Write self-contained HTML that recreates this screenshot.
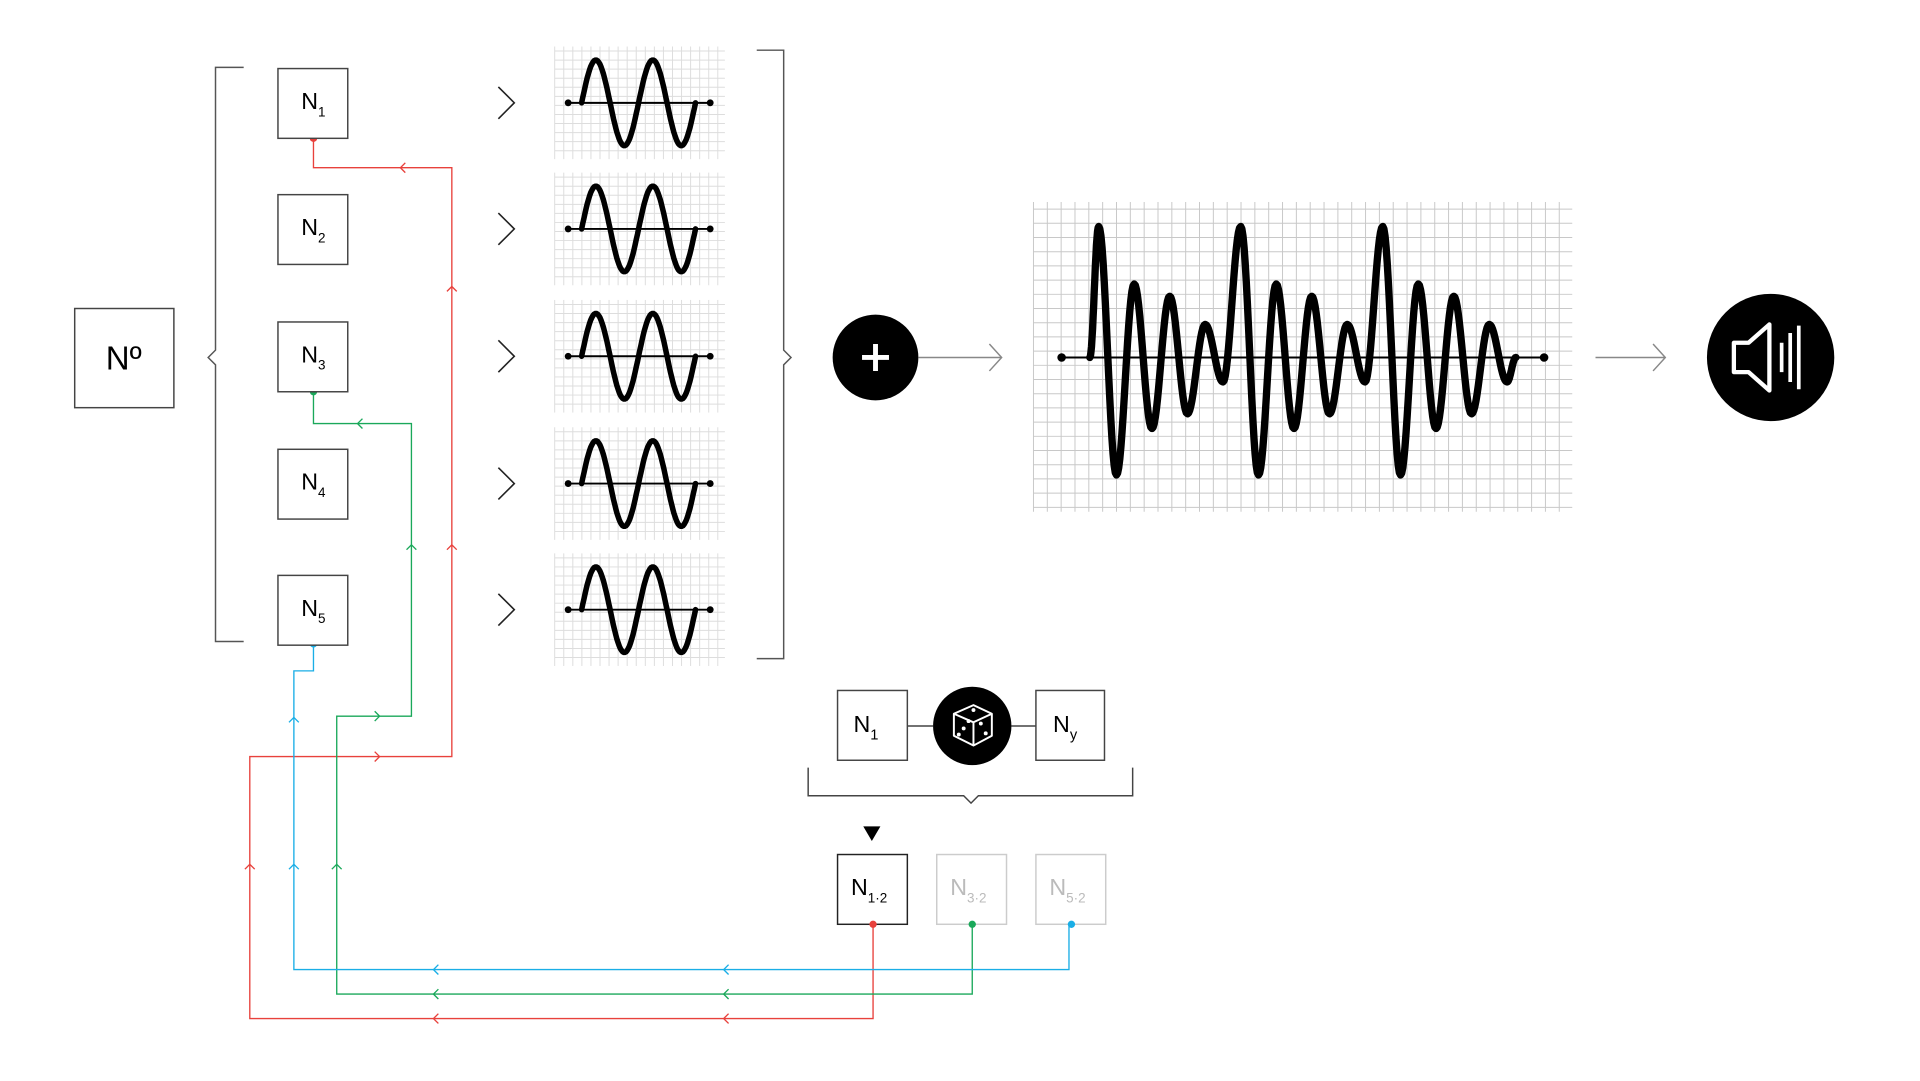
<!DOCTYPE html>
<html><head><meta charset="utf-8"><style>
html,body{margin:0;padding:0;background:#fff;overflow:hidden;}
svg{display:block;}
text{font-family:"Liberation Sans",sans-serif;}
</style></head><body>
<svg id="s" width="1920" height="1081" viewBox="0 0 1568 883" preserveAspectRatio="none" xmlns="http://www.w3.org/2000/svg">
<g id="grids"></g>
<g>
<rect x="61" y="252" width="81" height="81" fill="#fff" stroke="#444" stroke-width="1.2"/>
<text x="101" y="302" font-size="27" text-anchor="middle">Nº</text>
</g>
<path d="M199,55 H176 V286 L170,292 L176,298 V524 H199" fill="none" stroke="#555" stroke-width="1.2"/>
<path d="M618,41 H640 V286 L646,292 L640,298 V538 H618" fill="none" stroke="#555" stroke-width="1.2"/>
<g id="routes" fill="none" stroke-width="1.1"></g>
<g id="boxes"></g>
<g id="waves"></g>
<g>
<circle cx="715" cy="292" r="35" fill="#000"/>
<path d="M715,281 V303 M704,292 H726" stroke="#fff" stroke-width="4"/>
</g>
<path d="M750,292 H818 M808,281 L818,292 L808,303" fill="none" stroke="#888" stroke-width="1.2"/>
<path d="M1303,292 H1360 M1350,281 L1360,292 L1350,303" fill="none" stroke="#888" stroke-width="1.2"/>
<g id="bigwave"></g>
<g>
<circle cx="1446" cy="292" r="52" fill="#000"/>
<path d="M1416,280 H1428 L1445,265 V319 L1428,304 H1416 Z" fill="none" stroke="#fff" stroke-width="3.5" stroke-linejoin="round"/>
<path d="M1455,280 V304 M1462,272 V312 M1469,266 V318" stroke="#fff" stroke-width="3"/>
</g>
<g>
<rect x="684" y="564" width="57" height="57" fill="#fff" stroke="#444" stroke-width="1.2"/>
<text x="697" y="598" font-size="19" font-family="Liberation Mono">N<tspan font-size="12" dy="6">1</tspan></text>
<path d="M741,593 H762 M826,593 H846" stroke="#444" stroke-width="1.2"/>
<g>
<circle cx="794" cy="593" r="32" fill="#000"/>
<path d="M779,583 L795,576 L810,583 L810,601 L795,609 L779,601 Z M779,583 L795,590 L810,583 M795,590 V609" fill="none" stroke="#fff" stroke-width="1.6" stroke-linejoin="round"/>
<circle cx="795" cy="580" r="1.6" fill="#fff"/><circle cx="783" cy="600" r="1.6" fill="#fff"/><circle cx="787" cy="595" r="1.6" fill="#fff"/><circle cx="791" cy="589" r="1.6" fill="#fff"/><circle cx="801" cy="591" r="1.6" fill="#fff"/><circle cx="805" cy="599" r="1.6" fill="#fff"/>
</g>
<rect x="846" y="564" width="56" height="57" fill="#fff" stroke="#444" stroke-width="1.2"/>
<text x="860" y="598" font-size="19" font-family="Liberation Mono">N<tspan font-size="12" dy="6">y</tspan></text>
<path d="M660,627 V650 H787 L793,656 L799,650 H925 V627" fill="none" stroke="#444" stroke-width="1.2"/>
<path d="M705,675 H719 L712,687 Z" fill="#000"/>
</g>
<g id="outboxes"></g>
</svg>
<script>
const NS="http://www.w3.org/2000/svg";
function mk(tag,attrs,parent){const e=document.createElementNS(NS,tag);for(const k in attrs)e.setAttribute(k,attrs[k]);parent.appendChild(e);return e;}
const grids=document.getElementById('grids');
function grid(x0,y0,x1,y1,sx,sy,col){
  for(let x=x0;x<=x1+0.1;x+=sx) mk('line',{x1:x,y1:y0,x2:x,y2:y1,stroke:col,'stroke-width':0.8},grids);
  for(let y=y0+sy/2;y<=y1;y+=sy) mk('line',{x1:x0,y1:y,x2:x1,y2:y,stroke:col,'stroke-width':0.8},grids);
}
const oscLabels=['1','2','3','4','5'];
const oscCenters=[84,187,291,395,498];
const boxes=document.getElementById('boxes');
const waves=document.getElementById('waves');
oscLabels.forEach((lab,i)=>{
  const cy=oscCenters[i];
  const g=mk('g',{},boxes);
  
  
  mk('rect',{x:227,y:cy-28,width:57,height:57,fill:'#fff',stroke:'#444','stroke-width':1.2},g);
  const t=mk('text',{x:246,y:cy+5,'font-size':19,'font-family':'Liberation Mono'},g);
  t.textContent='N';
  const ts=mk('tspan',{'font-size':11,dy:6},t); ts.textContent=lab;
  const ch=mk('path',{d:`M407,${cy-13} L420,${cy} L407,${cy+13}`,fill:'none',stroke:'#222','stroke-width':1.3},boxes);
  
  
  grid(453,cy-46,592,cy+46,7.4,7.4,'#ddd');
  const wg=mk('g',{},waves);
  
  
  mk('line',{x1:464,y1:cy,x2:580,y2:cy,stroke:'#000','stroke-width':1.6},wg);
  mk('circle',{cx:464,cy:cy,r:2.8,fill:'#000'},wg);
  mk('circle',{cx:580,cy:cy,r:2.8,fill:'#000'},wg);
  let d='';
  for(let k=0;k<=100;k++){const x=475+93*k/100;const y=cy-35*Math.sin(4*Math.PI*k/100);d+=(k?'L':'M')+x.toFixed(1)+','+y.toFixed(1);}
  mk('path',{d:d,fill:'none',stroke:'#000','stroke-width':4.5,'stroke-linecap':'round'},wg);
});
const bigExtremes=[107,-96,60,-58,50,-46,27,-20,107,-96,60,-58,50,-46,27,-20,107,-96,60,-58,50,-46,27,-20];
grid(844,165,1284,418,11.3,11.6,'#c8c8c8');
const bw=document.getElementById('bigwave');


const axY=292,xs0=890,xs1=1238;
mk('line',{x1:867,y1:axY,x2:1261,y2:axY,stroke:'#000','stroke-width':1.6},bw);
mk('circle',{cx:867,cy:axY,r:3.5,fill:'#000'},bw);
mk('circle',{cx:1261,cy:axY,r:3.5,fill:'#000'},bw);
(function(){
  const n=bigExtremes.length;const step=(xs1-xs0)/(n);
  const pts=[[xs0,0]];
  bigExtremes.forEach((v,i)=>pts.push([xs0+step*(i+0.5),v]));
  pts.push([xs1,0]);
  let d=`M${xs0},${axY}`;
  for(let i=0;i<pts.length-1;i++){
    const [xa,ya]=pts[i],[xb,yb]=pts[i+1];
    for(let k=1;k<=16;k++){const t=k/16;const x=xa+(xb-xa)*t;const y=ya+(yb-ya)*(1-Math.cos(Math.PI*t))/2;d+=`L${x.toFixed(1)},${(axY-y).toFixed(1)}`;}
  }
  mk('path',{d:d,fill:'none',stroke:'#000','stroke-width':6,'stroke-linecap':'round','stroke-linejoin':'round'},bw);
})();
const routes=document.getElementById('routes');
function route(name,col,d,arrows){
  const g=mk('g',{stroke:col},routes);
  
  
  mk('path',{d:d},g);
  arrows.forEach(([x,y,dir])=>{
    let p;
    if(dir==='L')p=`M${x+4},${y-4} L${x},${y} L${x+4},${y+4}`;
    if(dir==='R')p=`M${x-4},${y-4} L${x},${y} L${x-4},${y+4}`;
    if(dir==='U')p=`M${x-4},${y+4} L${x},${y} L${x+4},${y+4}`;
    mk('path',{d:p},g);
  });
}
route('red-route','#e8413c','M713,755 V832 H204 V618 H369 V137 H256 V113',[[354,832,'L'],[591,832,'L'],[204,706,'U'],[310,618,'R'],[369,445,'U'],[369,234,'U'],[327,137,'L']]);
route('green-route','#1aa85a','M794,755 V812 H275 V585 H336 V346 H256 V320',[[354,812,'L'],[591,812,'L'],[275,706,'U'],[310,585,'R'],[336,445,'U'],[292,346,'L']]);
route('blue-route','#1aaee6','M873,755 V792 H240 V548 H256 V526',[[354,792,'L'],[591,792,'L'],[240,706,'U'],[240,586,'U']]);
[[256,113,'#e8413c'],[256,320,'#1aa85a'],[256,526,'#1aaee6']].forEach(([x,y,c])=>{const e=mk('circle',{cx:x,cy:y,r:3,fill:c},routes);});
const outLabels=['1·2','3·2','5·2'];
const outX=[684,765,846];
const outActive=[true,false,false];
const outDot=['#e8413c','#1aa85a','#1aaee6'];
const ob=document.getElementById('outboxes');
outLabels.forEach((lab,i)=>{
  const g=mk('g',{},ob);
  
  
  const c=outActive[i]?'#000':'#bbb';
  mk('rect',{x:outX[i],y:698,width:57,height:57,fill:'#fff',stroke:outActive[i]?'#222':'#ccc','stroke-width':1.2},g);
  const t=mk('text',{x:outX[i]+11,y:731,'font-size':19,fill:c,'font-family':'Liberation Mono'},g);
  t.textContent='N';
  const ts=mk('tspan',{'font-size':11,dy:6},t);ts.textContent=lab;
  mk('circle',{cx:outX[i]+29,cy:755,r:3,fill:outDot[i]},g);
});
</script>
</body></html>
